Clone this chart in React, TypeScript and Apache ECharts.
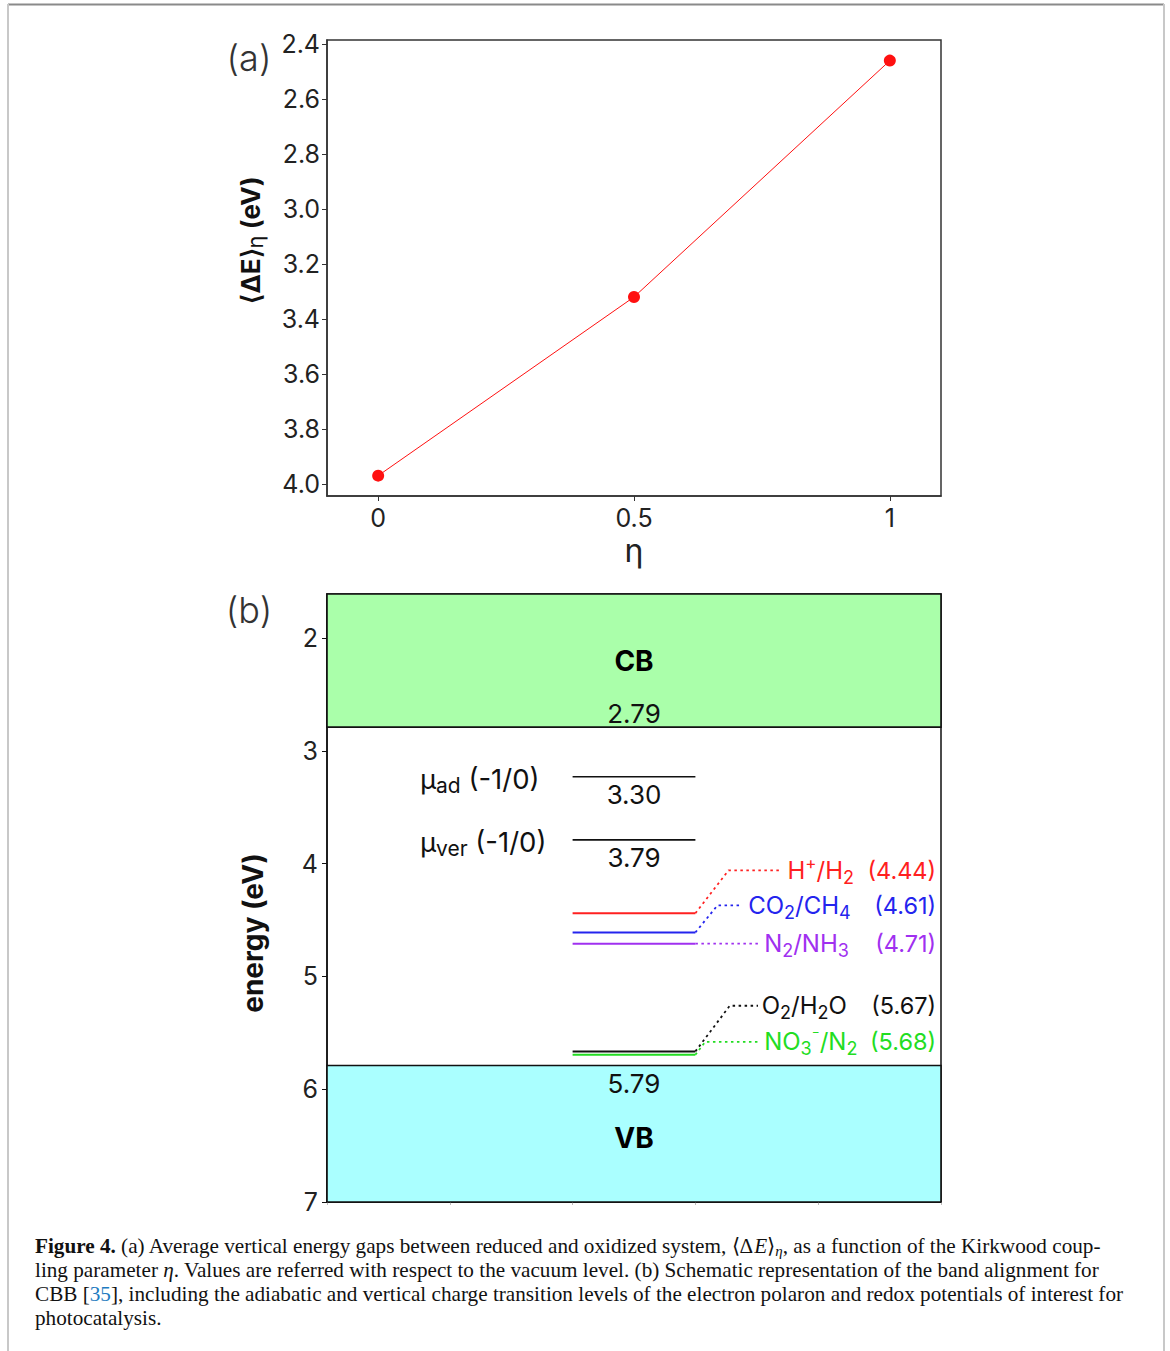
import React, { useEffect, useRef } from "react";
import * as echarts from "echarts";

// ---------- panel (a) data ----------
const etaValues = [0, 0.5, 1];
const gapValues = [3.97, 3.32, 2.46];
const etaTickValues = [0, 0.5, 1];
const gapTickValues = [2.4, 2.6, 2.8, 3.0, 3.2, 3.4, 3.6, 3.8, 4.0];

// ---------- panel (b) data ----------
const energyTickValues = [2, 3, 4, 5, 6, 7];
const slotTickValues = [0, 1, 2, 3, 4, 5];
const bandNames = ["CB", "VB"];
const bandTop = [1.61, 5.79];
const bandBottom = [2.79, 7.0];
const bandEdgeText = ["2.79", "5.79"];
const bandColors = ["#aaffaa", "#aaffff"];
const polaronSubs = ["ad", "ver"];
const polaronLevels = [3.23, 3.79];
const polaronText = ["3.30", "3.79"];
const redoxFormulas = [
  "{n|H}{sup|+}{n|/H}{sub|2}",
  "{n|CO}{sub|2}{n|/CH}{sub|4}",
  "{n|N}{sub|2}{n|/NH}{sub|3}",
  "{n|O}{sub|2}{n|/H}{sub|2}{n|O}",
  "{n|NO}{sub|3}{supm|−}{n|/N}{sub|2}",
];
const redoxValues = [4.44, 4.61, 4.71, 5.665, 5.695];
const redoxText = ["(4.44)", "(4.61)", "(4.71)", "(5.67)", "(5.68)"];
const redoxColors = ["#ff2020", "#2424ee", "#a030f0", "#111111", "#22dd22"];
// connector geometry (data units of panel b)
const redoxLabelLevel = [4.06, 4.37, 4.71, 5.26, 5.58];
const redoxBendX = [3.27, 3.18, 3.0, 3.28, 3.08];
const redoxDotEndX = [3.69, 3.38, 3.51, 3.51, 3.51];
const redoxNameX = [3.75, 3.43, 3.56, 3.54, 3.56];
const redoxValueX = 4.96;
const levelStartX = 2;
const levelEndX = 3;

const FONT = "Inter";
const SERIF = "Liberation Serif";

function richFor(color: string, size: number) {
  return {
    n: { fontSize: size, fontFamily: FONT, fill: color, color, lineHeight: 32 },
    sub: { fontSize: 18, fontFamily: FONT, fill: color, color, lineHeight: 18, verticalAlign: "bottom" },
    sup: { fontSize: 17, fontFamily: FONT, fill: color, color, lineHeight: 17, verticalAlign: "top" },
    supm: { fontSize: 12, fontFamily: FONT, fill: color, color, lineHeight: 12, verticalAlign: "top" },
  };
}

type TextItem = {
  pos: [number, number];
  text: string;
  color: string;
  size: number;
  weight?: string | number;
  align: string;
  rich?: any;
};

function buildTexts(): TextItem[] {
  const items: TextItem[] = [];
  bandNames.forEach((name, i) => {
    const mid = i === 0 ? 2.2 : 6.43;
    items.push({ pos: [2.5, mid], text: name, color: "#000", size: 28, weight: 700, align: "center" });
    const edgeY = i === 0 ? bandBottom[0] - 0.12 : bandTop[1] + 0.16;
    items.push({ pos: [2.5, edgeY], text: bandEdgeText[i], color: "#111", size: 26, align: "center" });
  });
  polaronLevels.forEach((lv, i) => {
    items.push({
      pos: [0.757, lv + 0.02],
      text: `{m|μ}{s|${polaronSubs[i]}}{m| (-1/0)}`,
      color: "#111",
      size: 27.5,
      align: "left",
      rich: {
        m: { fontSize: 27.5, fontFamily: FONT, fill: "#111", lineHeight: 34 },
        s: { fontSize: 21, fontFamily: FONT, fill: "#111", lineHeight: 21, verticalAlign: "bottom" },
      },
    });
    items.push({ pos: [2.5, lv + 0.16], text: polaronText[i], color: "#111", size: 26, align: "center" });
  });
  redoxValues.forEach((v, i) => {
    const c = redoxColors[i];
    items.push({ pos: [redoxNameX[i], redoxLabelLevel[i]], text: redoxFormulas[i], color: c, size: 24, align: "left", rich: richFor(c, 24) });
    items.push({ pos: [redoxValueX, redoxLabelLevel[i]], text: redoxText[i], color: c, size: 23.5, align: "right" });
  });
  return items;
}

export default function App() {
  const ref = useRef<HTMLDivElement>(null);
  useEffect(() => {
    if (!ref.current) return;
    const chart = echarts.init(ref.current, undefined, { renderer: "svg" });
    const texts = buildTexts();

    const tickLabelStyle = { fontSize: 25, fontFamily: FONT, color: "#222" };

    const levelSeries: any[] = [];
    polaronLevels.forEach((lv) => {
      levelSeries.push({
        type: "line", xAxisIndex: 1, yAxisIndex: 1, symbol: "none", silent: true, z: 5,
        data: [[levelStartX, lv], [levelEndX, lv]],
        lineStyle: { color: "#111", width: 1.6 },
      });
    });
    redoxValues.forEach((v, i) => {
      levelSeries.push({
        type: "line", xAxisIndex: 1, yAxisIndex: 1, symbol: "none", silent: true, z: 5,
        data: [[levelStartX, v], [levelEndX, v]],
        lineStyle: { color: redoxColors[i], width: 2 },
      });
      levelSeries.push({
        type: "line", xAxisIndex: 1, yAxisIndex: 1, symbol: "none", silent: true, z: 5,
        data: [[levelEndX, v], [redoxBendX[i], redoxLabelLevel[i]], [redoxDotEndX[i], redoxLabelLevel[i]]],
        lineStyle: { color: redoxColors[i], width: 1.8, type: [2.5, 3.5] },
      });
    });

    const option: any = {
      animation: false,
      backgroundColor: "#fff",
      grid: [
        { left: 327, top: 40, width: 614, height: 456, show: true, borderColor: "#333", borderWidth: 1.5, backgroundColor: "transparent" },
        { left: 327, top: 594, width: 614, height: 608, show: true, borderColor: "#111", borderWidth: 1.5, backgroundColor: "transparent" },
      ],
      xAxis: [
        {
          gridIndex: 0, type: "value", min: -0.1, max: 1.1,
          axisLine: { show: true, onZero: false, lineStyle: { color: "#333", width: 1.5 } },
          axisTick: { show: true, customValues: etaTickValues, length: 5, lineStyle: { color: "#333" } },
          axisLabel: { show: true, customValues: etaTickValues, margin: 9, ...tickLabelStyle, formatter: (v: number) => String(v) },
          splitLine: { show: false },
          name: "η", nameLocation: "middle", nameGap: 38,
          nameTextStyle: { fontSize: 32, fontFamily: FONT, color: "#222" },
        },
        {
          gridIndex: 1, type: "value", min: 0, max: 5,
          axisLine: { show: true, onZero: false, lineStyle: { color: "#111", width: 1.5 } },
          axisTick: { show: true, customValues: slotTickValues, length: 3, lineStyle: { color: "#bbb", width: 1 } },
          axisLabel: { show: false },
          splitLine: { show: false },
        },
      ],
      yAxis: [
        {
          gridIndex: 0, type: "value", inverse: true, min: 2.385, max: 4.044,
          axisLine: { show: true, onZero: false, lineStyle: { color: "#333", width: 1.5 } },
          axisTick: { show: true, customValues: gapTickValues, length: 5, lineStyle: { color: "#333" } },
          axisLabel: { show: true, customValues: gapTickValues, margin: 7, ...tickLabelStyle, formatter: (v: number) => v.toFixed(1) },
          splitLine: { show: false },
        },
        {
          gridIndex: 1, type: "value", inverse: true, min: 1.61, max: 7,
          axisLine: { show: true, onZero: false, lineStyle: { color: "#111", width: 1.5 } },
          axisTick: { show: true, customValues: energyTickValues, length: 5, lineStyle: { color: "#111" } },
          axisLabel: { show: true, customValues: energyTickValues, margin: 9, ...tickLabelStyle, formatter: (v: number) => String(v) },
          splitLine: { show: false },
        },
      ],
      series: [
        {
          type: "line", xAxisIndex: 0, yAxisIndex: 0,
          data: etaValues.map((x, i) => [x, gapValues[i]]),
          symbol: "circle", symbolSize: 12,
          lineStyle: { color: "#ff1010", width: 1 },
          itemStyle: { color: "#ff1010" },
          z: 5,
        },
        {
          type: "custom", xAxisIndex: 1, yAxisIndex: 1, silent: true, z: 1,
          data: bandTop.map((t, i) => [t, bandBottom[i], i]),
          renderItem: (params: any, api: any) => {
            const i = params.dataIndex;
            const p1 = api.coord([0, bandTop[i]]);
            const p2 = api.coord([5, bandBottom[i]]);
            return {
              type: "rect",
              shape: { x: p1[0], y: p1[1], width: p2[0] - p1[0], height: p2[1] - p1[1] },
              style: { fill: bandColors[i], stroke: "#111", lineWidth: 1.6 },
            };
          },
        },
        ...levelSeries,
        {
          type: "custom", xAxisIndex: 1, yAxisIndex: 1, silent: true, z: 8,
          data: texts.map((t) => t.pos),
          renderItem: (params: any, api: any) => {
            const t = texts[params.dataIndex];
            const p = api.coord([api.value(0), api.value(1)]);
            return {
              type: "text",
              x: p[0], y: p[1],
              style: {
                text: t.text, fill: t.color, fontSize: t.size, fontFamily: FONT,
                fontWeight: t.weight || 400, align: t.align, verticalAlign: "middle",
                rich: t.rich,
              },
            };
          },
        },
      ],
      graphic: [
        { type: "line", shape: { x1: 8, y1: 4.5, x2: 1164, y2: 4.5 }, style: { stroke: "#8a8a8a", lineWidth: 2 } },
        { type: "line", shape: { x1: 8, y1: 4, x2: 8, y2: 1351 }, style: { stroke: "#c8c8c8", lineWidth: 2 } },
        { type: "line", shape: { x1: 1164, y1: 4, x2: 1164, y2: 1351 }, style: { stroke: "#c8c8c8", lineWidth: 2 } },
        {
          type: "text", x: 249, y: 58,
          style: { text: "(a)", fontSize: 36, fontWeight: 300, fontFamily: FONT, fill: "#333", align: "center", verticalAlign: "middle", textAlign: "center", textVerticalAlign: "middle" },
        },
        {
          type: "text", x: 249, y: 610,
          style: { text: "(b)", fontSize: 36, fontWeight: 300, fontFamily: FONT, fill: "#333", align: "center", verticalAlign: "middle", textAlign: "center", textVerticalAlign: "middle" },
        },
        {
          type: "text", x: 250, y: 240, rotation: Math.PI / 2,
          style: {
            text: "{m|⟨ΔE⟩}{s|η}{m| (eV)}",
            align: "center", verticalAlign: "middle", textAlign: "center", textVerticalAlign: "middle",
            rich: {
              m: { fontSize: 26, fontWeight: 700, fontFamily: FONT, fill: "#111", lineHeight: 32 },
              s: { fontSize: 22, fontWeight: 400, fontFamily: FONT, fill: "#111", lineHeight: 22, verticalAlign: "bottom" },
            },
          },
        },
        {
          type: "text", x: 253, y: 933, rotation: Math.PI / 2,
          style: { text: "energy (eV)", fontSize: 28, fontWeight: 700, fontFamily: FONT, fill: "#111", align: "center", verticalAlign: "middle", textAlign: "center", textVerticalAlign: "middle" },
        },
        {
          type: "text", x: 35, y: 1234,
          style: {
            text:
              "{b|Figure 4.}{n| (a) Average vertical energy gaps between reduced and oxidized system, ⟨Δ}{i|E}{n|⟩}{isub|η}{n|, as a function of the Kirkwood coup-}\n" +
              "{n|ling parameter }{i|η}{n|. Values are referred with respect to the vacuum level. (b) Schematic representation of the band alignment for}\n" +
              "{n|CBB [}{blue|35}{n|], including the adiabatic and vertical charge transition levels of the electron polaron and redox potentials of interest for}\n" +
              "{n|photocatalysis.}",
            align: "left", verticalAlign: "top", textAlign: "left", textVerticalAlign: "top",
            rich: {
              b: { fontSize: 21.2, fontWeight: 700, fontFamily: SERIF, fill: "#111", lineHeight: 24 },
              n: { fontSize: 21.2, fontFamily: SERIF, fill: "#111", lineHeight: 24 },
              i: { fontSize: 21.2, fontStyle: "italic", fontFamily: SERIF, fill: "#111", lineHeight: 24 },
              isub: { fontSize: 15, fontStyle: "italic", fontFamily: SERIF, fill: "#111", lineHeight: 15, verticalAlign: "bottom" },
              blue: { fontSize: 21.2, fontFamily: SERIF, fill: "#1e7bc0", lineHeight: 24 },
            },
          },
        },
      ],
    };
    chart.setOption(option);
    return () => chart.dispose();
  }, []);
  return (
    <div
      ref={ref}
      style={{ position: "absolute", left: 0, top: 0, width: 1170, height: 1351, background: "#fff" }}
    />
  );
}
